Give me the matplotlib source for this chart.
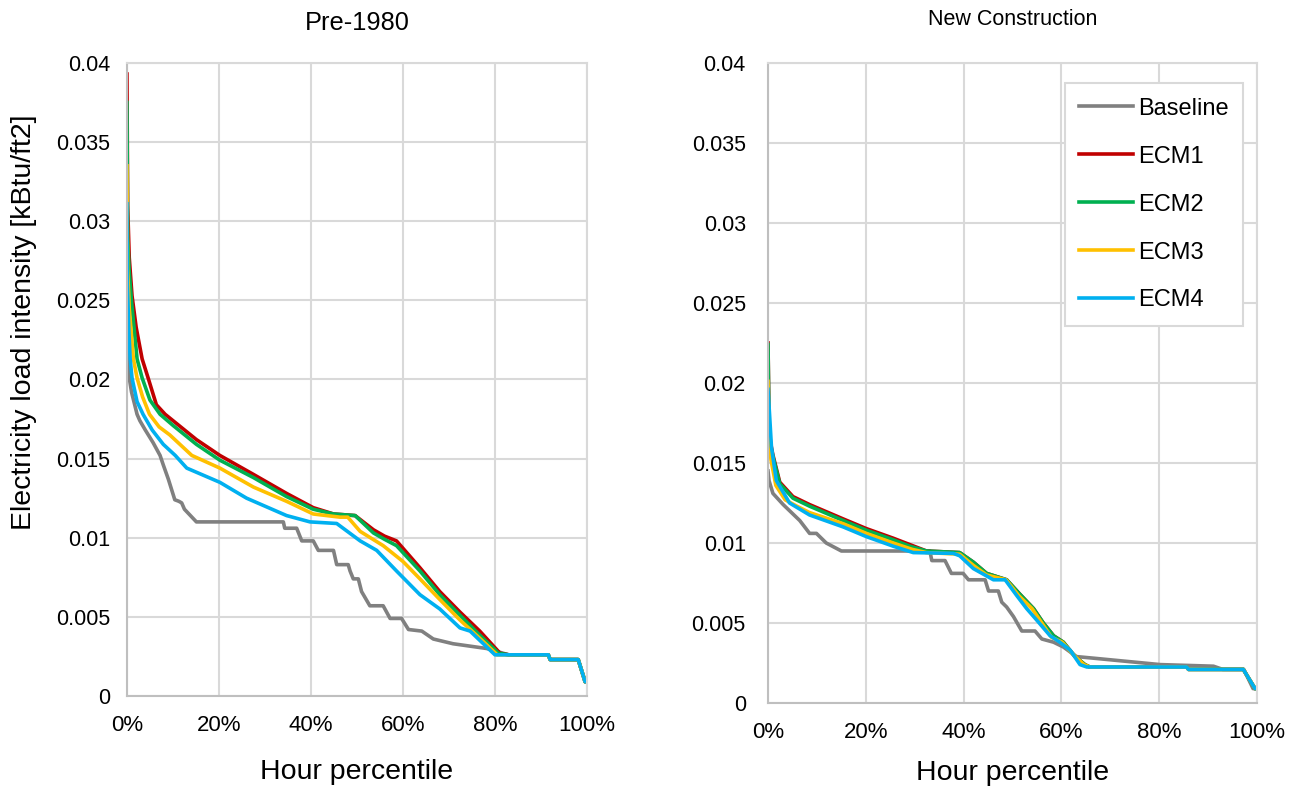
import numpy as np
import matplotlib
matplotlib.use('Agg')
import matplotlib.pyplot as plt
from matplotlib.ticker import FuncFormatter

plt.rcParams['font.family'] = ['Liberation Sans', 'DejaVu Sans']

series_names = ['Baseline', 'ECM1', 'ECM2', 'ECM3', 'ECM4']
series_colors = ['#808080', '#C00000', '#00B050', '#FFC000', '#00B0F0']

# ---- Pre-1980 (hour percentile %, load intensity kBtu/ft2) ----
pre_tail_x = [83.0, 91.6, 92.0, 98.1, 99.6, 100.0]
pre_tail_y = [0.0026, 0.0026, 0.0023, 0.0023, 0.0009, 0.0009]

pre_base_x = [0, 0.3, 0.5, 1.0, 2.2, 2.8, 4.0, 5.7, 7.2, 7.9, 9.0, 10.4, 11.3, 11.9, 12.5, 15.1,
              34.0, 34.3, 36.9, 38.0, 40.5, 41.6, 44.9, 45.6, 48.1, 48.5, 49.2, 50.3, 51.0, 52.8,
              55.7, 57.2, 59.7, 61.2, 64.1, 66.6, 70.9, 78.2, 81.8]
pre_base_y = [0.0235, 0.0215, 0.0201, 0.0192, 0.0178, 0.0174, 0.0168, 0.0160, 0.0152, 0.0146, 0.0137,
              0.0124, 0.0123, 0.0122, 0.0118, 0.0110, 0.0110, 0.0106, 0.0106, 0.0098, 0.0098, 0.0092,
              0.0092, 0.0083, 0.0083, 0.0079, 0.0074, 0.0074, 0.0066, 0.0057, 0.0057, 0.0049, 0.0049,
              0.0042, 0.0041, 0.0036, 0.0033, 0.0030, 0.0027]

pre_ecm1_x = [0, 0.15, 0.5, 1.1, 2.0, 3.3, 4.6, 6.4, 8.3, 10.0, 15.1, 20.2, 27.5, 34.7, 40.5, 44.9,
              49.6, 53.6, 56.0, 58.6, 63.7, 68.0, 72.4, 76.7, 81.1]
pre_ecm1_y = [0.0393, 0.0310, 0.0277, 0.0253, 0.0233, 0.0213, 0.0201, 0.0184, 0.0178, 0.0174, 0.0162,
              0.0152, 0.0140, 0.0128, 0.0119, 0.0115, 0.0114, 0.0105, 0.0101, 0.0098, 0.0081, 0.0066,
              0.0053, 0.0041, 0.0027]

pre_ecm2_x = [0, 0.15, 0.5, 1.0, 2.2, 3.3, 5.0, 7.2, 10.0, 15.1, 20.2, 27.5, 34.7, 40.5, 44.9,
              49.6, 53.6, 56.0, 58.6, 63.7, 68.0, 72.4, 76.5, 80.8]
pre_ecm2_y = [0.0375, 0.0290, 0.0268, 0.0249, 0.0213, 0.0201, 0.0187, 0.0178, 0.0171, 0.0159, 0.0149,
              0.0138, 0.0126, 0.0118, 0.0115, 0.0114, 0.0103, 0.0099, 0.0095, 0.0079, 0.0064, 0.0051,
              0.0039, 0.0027]

pre_ecm3_x = [0, 0.15, 0.5, 1.4, 2.2, 3.4, 4.9, 7.0, 9.3, 14.1, 20.2, 27.5, 34.7, 40.5, 46.3, 48.0,
              50.7, 55.7, 60.0, 63.7, 68.0, 72.4, 76.5, 80.5]
pre_ecm3_y = [0.0335, 0.0270, 0.0245, 0.0213, 0.0201, 0.0189, 0.0178, 0.0170, 0.0165, 0.0152, 0.0144,
              0.0132, 0.0123, 0.0115, 0.0113, 0.0113, 0.0104, 0.0095, 0.0085, 0.0074, 0.0061, 0.0048,
              0.0037, 0.0026]

pre_ecm4_x = [0, 0.1, 0.4, 0.7, 1.1, 2.2, 3.5, 5.5, 7.9, 10.5, 13.0, 20.2, 26.0, 34.7, 39.8, 45.6,
              50.7, 54.3, 58.6, 63.7, 68.0, 72.4, 74.6, 80.0]
pre_ecm4_y = [0.0311, 0.0260, 0.0232, 0.0213, 0.0201, 0.0186, 0.0178, 0.0168, 0.0159, 0.0152, 0.0144,
              0.0135, 0.0125, 0.0114, 0.0110, 0.0109, 0.0098, 0.0092, 0.0079, 0.0064, 0.0055, 0.0043,
              0.0041, 0.0026]

# ---- New Construction ----
new_tail_x = [65.8, 85.6, 86.0, 97.2, 99.6, 100.0]
new_tail_y = [0.00225, 0.00225, 0.0021, 0.0021, 0.0009, 0.0009]

new_base_x = [0, 0.2, 1.0, 3.1, 6.5, 8.5, 9.9, 11.9, 15.0, 33.1, 33.5, 36.2, 37.5, 39.9, 41.0, 44.4,
              45.1, 47.1, 47.8, 48.8, 50.2, 51.9, 54.6, 56.0, 58.4, 60.4, 63.1, 66.6, 80.2, 91.1,
              93.0, 97.3, 99.2, 100.0]
new_base_y = [0.0145, 0.0139, 0.0131, 0.0124, 0.0114, 0.0106, 0.0106, 0.0100, 0.0095, 0.0095, 0.0089,
              0.0089, 0.0081, 0.0081, 0.0077, 0.0077, 0.0070, 0.0070, 0.0063, 0.0060, 0.0054, 0.0045,
              0.0045, 0.0040, 0.0038, 0.0035, 0.0029, 0.0028, 0.0024, 0.0023, 0.0021, 0.0021, 0.0009,
              0.0009]

new_ecm1_x = [0, 0.2, 0.5, 1.0, 2.4, 5.1, 8.5, 15.4, 20.1, 25.6, 29.0, 32.4, 39.2, 42.0, 44.7, 48.8,
              51.5, 54.3, 56.3, 58.4, 60.4, 62.8, 64.8]
new_ecm1_y = [0.0225, 0.0175, 0.0163, 0.0155, 0.0138, 0.0129, 0.0124, 0.0115, 0.0109, 0.0103, 0.0099,
              0.0095, 0.0094, 0.0088, 0.0081, 0.0077, 0.0068, 0.0059, 0.0050, 0.0042, 0.0038, 0.0029,
              0.0024]

new_ecm2_x = [0, 0.2, 0.5, 1.0, 2.4, 5.1, 8.5, 15.4, 20.1, 25.6, 29.0, 32.4, 39.2, 42.0, 44.7, 48.8,
              51.5, 54.3, 56.3, 58.4, 60.4, 62.8, 64.8]
new_ecm2_y = [0.0224, 0.0173, 0.0161, 0.0154, 0.0137, 0.0128, 0.0123, 0.0114, 0.0108, 0.0102, 0.0098,
              0.0095, 0.0094, 0.0088, 0.0081, 0.0077, 0.0068, 0.0059, 0.0050, 0.0042, 0.0038, 0.0029,
              0.0024]

new_ecm3_x = [0, 0.2, 0.6, 1.6, 3.5, 5.9, 8.5, 15.4, 20.1, 25.6, 29.5, 32.4, 39.2, 42.0, 44.7, 48.7,
              51.3, 54.0, 56.0, 58.0, 60.2, 62.5, 64.6]
new_ecm3_y = [0.0201, 0.0168, 0.0152, 0.0136, 0.0127, 0.0123, 0.0119, 0.0112, 0.0106, 0.0100, 0.0096,
              0.0094, 0.0093, 0.0086, 0.0080, 0.0077, 0.0067, 0.0059, 0.0050, 0.0041, 0.0038, 0.0030,
              0.0024]

new_ecm4_x = [0, 0.3, 0.7, 1.7, 4.4, 8.5, 15.4, 20.1, 25.6, 29.7, 37.9, 39.2, 42.0, 46.1, 48.5, 50.9,
              52.9, 54.9, 57.7, 59.7, 61.8, 63.8, 65.2]
new_ecm4_y = [0.0196, 0.0181, 0.0160, 0.0139, 0.0125, 0.01175, 0.0110, 0.0104, 0.0098, 0.0094, 0.00935,
              0.0092, 0.0084, 0.0077, 0.0077, 0.0067, 0.0059, 0.0052, 0.0042, 0.0038, 0.0033, 0.0024,
              0.00225]

pre_x = [pre_base_x + pre_tail_x, pre_ecm1_x + pre_tail_x, pre_ecm2_x + pre_tail_x,
         pre_ecm3_x + pre_tail_x, pre_ecm4_x + pre_tail_x]
pre_y = [pre_base_y + pre_tail_y, pre_ecm1_y + pre_tail_y, pre_ecm2_y + pre_tail_y,
         pre_ecm3_y + pre_tail_y, pre_ecm4_y + pre_tail_y]
new_x = [new_base_x, new_ecm1_x + new_tail_x, new_ecm2_x + new_tail_x,
         new_ecm3_x + new_tail_x, new_ecm4_x + new_tail_x]
new_y = [new_base_y, new_ecm1_y + new_tail_y, new_ecm2_y + new_tail_y,
         new_ecm3_y + new_tail_y, new_ecm4_y + new_tail_y]

fig = plt.figure(figsize=(12.98, 7.89), dpi=100)
ax1 = fig.add_axes([0.0978, 0.1179, 0.3544, 0.8023])
ax2 = fig.add_axes([0.5917, 0.1090, 0.3767, 0.8112])

grid_col = '#d9d9d9'
for ax, xs, ys in [(ax1, pre_x, pre_y), (ax2, new_x, new_y)]:
    for x, y, name, col in zip(xs, ys, series_names, series_colors):
        ax.plot(x, y, color=col, lw=2.6, label=name, solid_joinstyle='round')
    ax.set_xlim(0, 100)
    ax.set_ylim(0, 0.04)
    ax.set_xticks(np.arange(0, 101, 20))
    ax.set_yticks(np.arange(0, 0.0401, 0.005))
    ax.xaxis.set_major_formatter(FuncFormatter(lambda v, p: '%d%%' % round(v)))
    ax.yaxis.set_major_formatter(FuncFormatter(lambda v, p: '%g' % round(v, 4)))
    ax.grid(True, color=grid_col, lw=1.5)
    ax.set_axisbelow(True)
    for s in ax.spines.values():
        s.set_color(grid_col)
        s.set_linewidth(1.5)
    ax.spines['left'].set_color('#bfbfbf')
    ax.spines['bottom'].set_color('#bfbfbf')
    ax.tick_params(length=0, labelsize=15.5, colors='black')
    ax.tick_params(axis='x', pad=14, labelsize=16)

ax1.set_xlabel('Hour percentile', fontsize=20.5, labelpad=16)
ax2.set_xlabel('Hour percentile', fontsize=20.5, labelpad=12)
ax1.tick_params(axis='y', pad=12)
ax2.tick_params(axis='y', pad=16)
ax1.set_title('Pre-1980', fontsize=18.3, pad=24)
ax2.set_title('New Construction', fontsize=15.5, pad=27)
ax1.set_ylabel('Electricity load intensity [kBtu/ft2]', fontsize=20.5)
ax1.yaxis.set_label_coords(-0.195, 0.59)

leg = ax2.legend(loc='upper right', bbox_to_anchor=(0.972, 0.968), borderaxespad=0,
                 fontsize=17, fancybox=False, edgecolor=grid_col, framealpha=1,
                 handlelength=2.25, labelspacing=1.1, borderpad=0.6, handletextpad=0.25)
leg.get_frame().set_linewidth(1.5)

fig.savefig('out.png', dpi=100)
